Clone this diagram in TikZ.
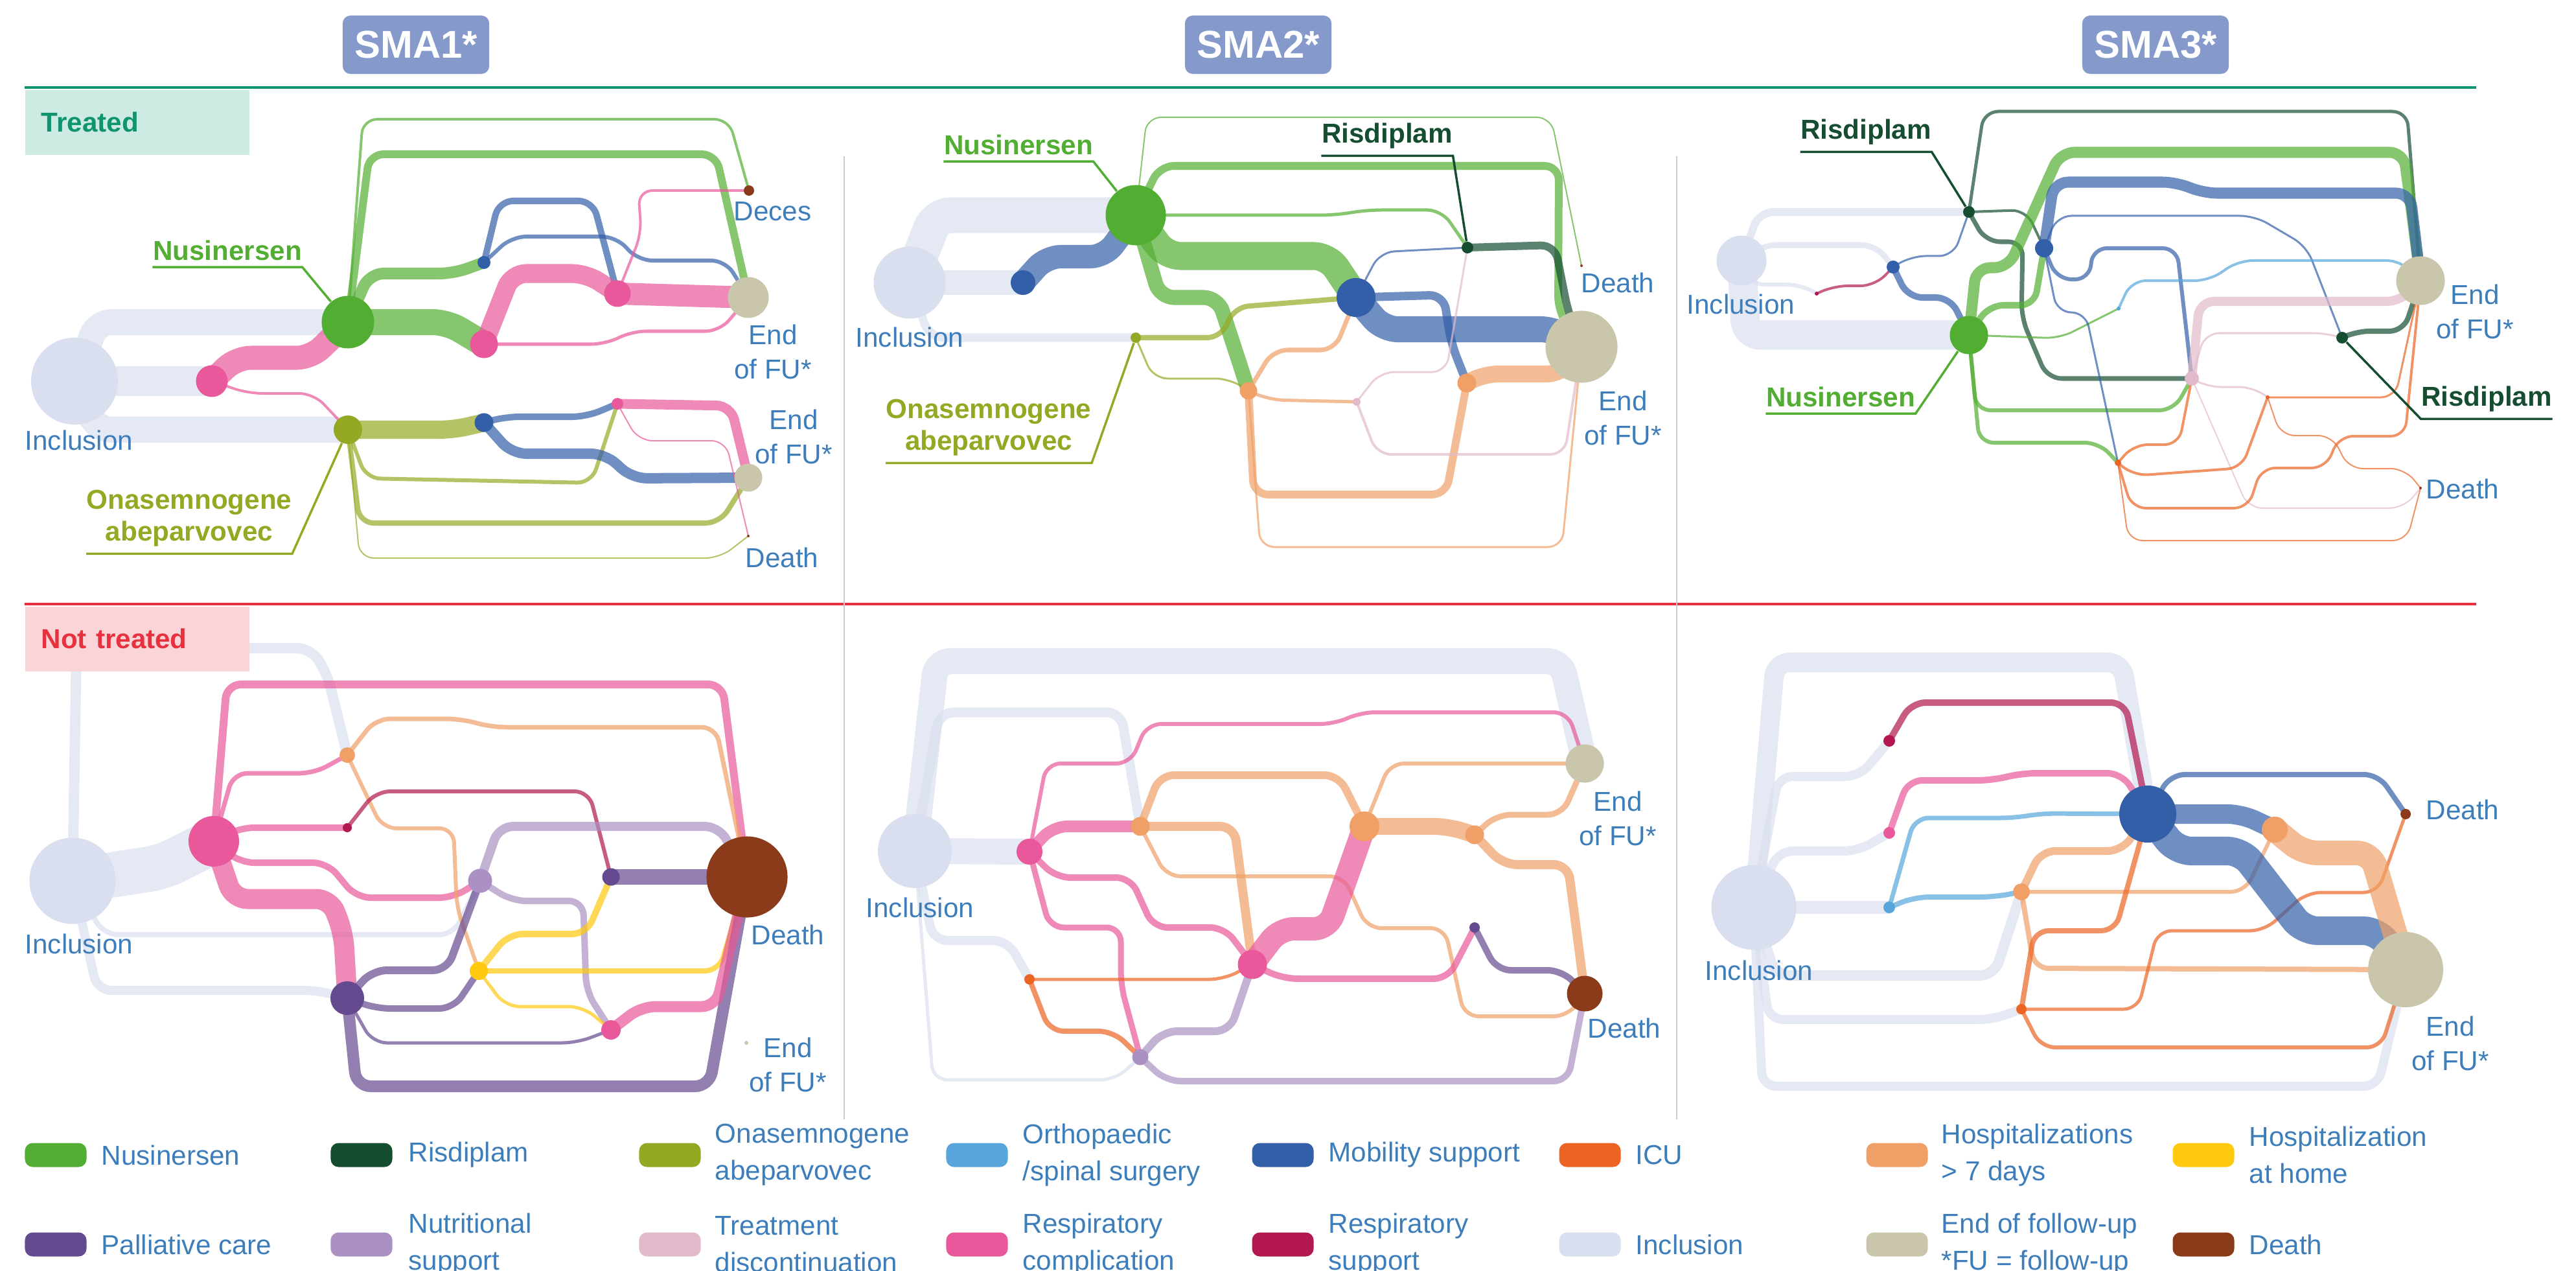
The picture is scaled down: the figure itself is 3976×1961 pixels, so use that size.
\documentclass[tikz,border=0pt]{standalone}
\usepackage{fontspec}
\setmainfont{Liberation Sans}
\usepackage{tikz}
\usetikzlibrary{backgrounds}
\definecolor{cNus}{HTML}{52AE32}
\definecolor{cRis}{HTML}{154D30}
\definecolor{cOna}{HTML}{95A823}
\definecolor{cOrt}{HTML}{57A5DB}
\definecolor{cMob}{HTML}{325FA8}
\definecolor{cIcu}{HTML}{EB6424}
\definecolor{cHos}{HTML}{F0A066}
\definecolor{cHom}{HTML}{FFC90E}
\definecolor{cPal}{HTML}{654A8F}
\definecolor{cNut}{HTML}{AB91C3}
\definecolor{cTrd}{HTML}{E1BBCB}
\definecolor{cRco}{HTML}{E8589A}
\definecolor{cRsu}{HTML}{B2174F}
\definecolor{cInc}{HTML}{DADFF0}
\definecolor{cEnd}{HTML}{C9C6AC}
\definecolor{cDth}{HTML}{8B3B1A}
\definecolor{cTxt}{HTML}{3D7DBA}
\definecolor{cHdr}{HTML}{8599CB}
\definecolor{cTrt}{HTML}{0F9470}
\definecolor{cTrtBg}{HTML}{CDEAE3}
\definecolor{cNot}{HTML}{E8313F}
\definecolor{cNotBg}{HTML}{F9D5D8}
\definecolor{cSep}{HTML}{CCCCCC}
\newcommand{\lbfont}{\fontsize{12}{15}\selectfont}

\begin{document}
\begin{tikzpicture}[x=0.01cm,y=-0.01cm,
  st/.style={circle,fill=#1,draw=none,inner sep=0pt},
  fl/.style={draw=#1,draw opacity=0.7,rounded corners=0.22cm},
  lb/.style={text=cTxt,font=\lbfont,align=center,inner sep=0pt},
  ld/.style={text=#1,font=\bfseries\fontsize{12}{14}\selectfont,align=center,inner xsep=0pt,inner ysep=0.1cm},
  lead/.style={draw=#1,line width=0.035cm},
  hdr/.style={fill=cHdr,text=white,font=\bfseries\fontsize{17}{17}\selectfont,rounded corners=0.12cm,minimum width=2.26cm,minimum height=0.9cm},
  sec/.style={fill=#1,anchor=north west,minimum height=1.0cm,text width=2.96cm,inner xsep=0.25cm,align=left,font=\bfseries\fontsize{12}{14}\selectfont},
  sw/.style={fill=#1,rounded corners=0.12cm,minimum width=0.95cm,minimum height=0.37cm,inner sep=0pt},
  lg/.style={text=cTxt,font=\fontsize{12}{16.2}\selectfont,anchor=west,align=left,inner sep=0pt}]
\useasboundingbox (0,0) rectangle (3976,1961);

% headers and frames
\node[hdr] (h1) at (642,69) {SMA1*};
\node[hdr] (h2) at (1942,69) {SMA2*};
\node[hdr] (h3) at (3327,69) {SMA3*};
\draw[cTrt,line width=0.046cm] (38,135) -- (3822,135);
\draw[cNot,line width=0.046cm] (38,932) -- (3822,932);
\draw[cSep,line width=0.02cm] (1303,241) -- (1303,1727);
\draw[cSep,line width=0.02cm] (2588,241) -- (2588,1727);
\node[sec=cTrtBg,text=cTrt] (trt) at (38,138) {Treated};
\node[sec=cNotBg,text=cNot] (ntrt) at (38,935) {Not treated};

% treated, SMA1
\node[st=cInc,minimum size=1.34cm] (p1inc) at (115,588) {};
\node[st=cRco,minimum size=0.49cm] (p1rc) at (327,588) {};
\node[st=cNus,minimum size=0.81cm] (p1nus) at (537,497) {};
\node[st=cOna,minimum size=0.44cm] (p1ona) at (537,663) {};
\node[st=cMob,minimum size=0.20cm] (p1mob) at (747,405) {};
\node[st=cRco,minimum size=0.43cm] (p1rcb) at (747,531) {};
\node[st=cRco,minimum size=0.41cm] (p1rcc) at (953,453) {};
\node[st=cEnd,minimum size=0.63cm] (p1end) at (1155,459) {};
\node[st=cDth,minimum size=0.16cm] (p1dec) at (1156,294) {};
\node[st=cMob,minimum size=0.29cm] (p1mobb) at (747,652) {};
\node[st=cRco,minimum size=0.18cm] (p1rcd) at (953,623) {};
\node[st=cEnd,minimum size=0.43cm] (p1endb) at (1155,737) {};
\node[st=cDth,minimum size=0.04cm] (p1dth) at (1155,827) {};
\node[lb] (t1inc) at (122,679) {Inclusion};
\node[lb,anchor=west] (t1dec) at (1132,326) {Deces};
\node[lb] (t1end) at (1193,543) {End\\of FU*};
\node[lb] (t1endb) at (1225,674) {End\\of FU*};
\node[lb] (t1dth) at (1207,860) {Death};
\node[ld=cNus] (l1nus) at (351,386) {Nusinersen};
\node[ld=cOna] (l1ona) at (292,800) {Onasemnogene\\abeparvovec};
\draw[lead=cNus] (l1nus.south west) -- (l1nus.south east) -- (p1nus);
\draw[lead=cOna] (l1ona.south west) -- (l1ona.south east) -- (p1ona);

% treated, SMA2
\node[st=cInc,minimum size=1.11cm] (p2inc) at (1404,436) {};
\node[st=cMob,minimum size=0.38cm] (p2mob) at (1579,436) {};
\node[st=cNus,minimum size=0.93cm] (p2nus) at (1753,332) {};
\node[st=cOna,minimum size=0.16cm] (p2ona) at (1753,521) {};
\node[st=cMob,minimum size=0.60cm] (p2mobb) at (2093,459) {};
\node[st=cRis,minimum size=0.18cm] (p2ris) at (2265,382) {};
\node[st=cHos,minimum size=0.27cm] (p2hos) at (1927,603) {};
\node[st=cTrd,minimum size=0.12cm] (p2trd) at (2094,620) {};
\node[st=cHos,minimum size=0.29cm] (p2hosb) at (2264,591) {};
\node[st=cEnd,minimum size=1.11cm] (p2end) at (2441,535) {};
\node[st=cDth,minimum size=0.04cm] (p2dth) at (2441,410) {};
\node[lb] (t2inc) at (1404,520) {Inclusion};
\node[lb] (t2dth) at (2497,436) {Death};
\node[lb] (t2end) at (2505,645) {End\\of FU*};
\node[ld=cNus] (l2nus) at (1572,223) {Nusinersen};
\node[ld=cRis] (l2ris) at (2141,210) {Risdiplam};
\node[ld=cOna] (l2ona) at (1526,660) {Onasemnogene\\abeparvovec};
\draw[lead=cNus] (l2nus.south west) -- (l2nus.south east) -- (p2nus);
\draw[lead=cRis] (l2ris.south west) -- (l2ris.south east) -- (p2ris);
\draw[lead=cOna] (l2ona.south west) -- (l2ona.south east) -- (p2ona);

% treated, SMA3
\node[st=cInc,minimum size=0.77cm] (p3inc) at (2688,402) {};
\node[st=cMob,minimum size=0.20cm] (p3mob) at (2922,412) {};
\node[st=cRsu,minimum size=0.06cm] (p3rsu) at (2804,453) {};
\node[st=cNus,minimum size=0.59cm] (p3nus) at (3039,517) {};
\node[st=cRis,minimum size=0.18cm] (p3ris) at (3039,327) {};
\node[st=cMob,minimum size=0.28cm] (p3mobb) at (3155,383) {};
\node[st=cOrt,minimum size=0.06cm] (p3ort) at (3270,476) {};
\node[st=cTrd,minimum size=0.22cm] (p3trd) at (3383,584) {};
\node[st=cIcu,minimum size=0.06cm] (p3icu) at (3500,613) {};
\node[st=cIcu,minimum size=0.10cm] (p3icub) at (3269,714) {};
\node[st=cRis,minimum size=0.18cm] (p3risb) at (3615,521) {};
\node[st=cEnd,minimum size=0.75cm] (p3end) at (3736,433) {};
\node[st=cDth,minimum size=0.04cm] (p3dth) at (3736,753) {};
\node[lb] (t3inc) at (2687,469) {Inclusion};
\node[lb] (t3end) at (3820,481) {End\\of FU*};
\node[lb] (t3dth) at (3801,754) {Death};
\node[ld=cRis] (l3ris) at (2880,204) {Risdiplam};
\node[ld=cNus] (l3nus) at (2841,612) {Nusinersen};
\node[ld=cRis] (l3risb) at (3838,616) {Risdiplam};
\draw[lead=cRis] (l3ris.south west) -- (l3ris.south east) -- (p3ris);
\draw[lead=cNus] (l3nus.south west) -- (l3nus.south east) -- (p3nus);
\draw[lead=cRis] (l3risb.south east) -- (l3risb.south west) -- (p3risb);

% not treated, SMA1
\node[st=cInc,minimum size=1.33cm] (p4inc) at (112,1359) {};
\node[st=cRco,minimum size=0.78cm] (p4rc) at (330,1298) {};
\node[st=cHos,minimum size=0.24cm] (p4hos) at (536,1165) {};
\node[st=cRsu,minimum size=0.14cm] (p4rsu) at (536,1277) {};
\node[st=cNut,minimum size=0.37cm] (p4nut) at (741,1359) {};
\node[st=cPal,minimum size=0.27cm] (p4pal) at (943,1353) {};
\node[st=cDth,minimum size=1.25cm] (p4dth) at (1153,1353) {};
\node[st=cHom,minimum size=0.28cm] (p4hom) at (739,1498) {};
\node[st=cPal,minimum size=0.52cm] (p4palb) at (536,1540) {};
\node[st=cRco,minimum size=0.30cm] (p4rcb) at (943,1589) {};
\node[st=cEnd,minimum size=0.06cm] (p4end) at (1152,1609) {};
\node[lb] (t4inc) at (122,1456) {Inclusion};
\node[lb] (t4dth) at (1216,1442) {Death};
\node[lb] (t4end) at (1216,1643) {End\\of FU*};

% not treated, SMA2
\node[st=cInc,minimum size=1.14cm] (p5inc) at (1412,1313) {};
\node[st=cRco,minimum size=0.40cm] (p5rc) at (1589,1314) {};
\node[st=cHos,minimum size=0.29cm] (p5hos) at (1760,1275) {};
\node[st=cHos,minimum size=0.46cm] (p5hosb) at (2106,1275) {};
\node[st=cHos,minimum size=0.29cm] (p5hosc) at (2276,1288) {};
\node[st=cEnd,minimum size=0.59cm] (p5end) at (2446,1178) {};
\node[st=cRco,minimum size=0.45cm] (p5rcb) at (1933,1488) {};
\node[st=cIcu,minimum size=0.16cm] (p5icu) at (1589,1511) {};
\node[st=cNut,minimum size=0.25cm] (p5nut) at (1760,1631) {};
\node[st=cPal,minimum size=0.16cm] (p5pal) at (2276,1431) {};
\node[st=cDth,minimum size=0.55cm] (p5dth) at (2446,1533) {};
\node[lb] (t5inc) at (1420,1400) {Inclusion};
\node[lb] (t5end) at (2497,1263) {End\\of FU*};
\node[lb] (t5dth) at (2507,1586) {Death};

% not treated, SMA3
\node[st=cInc,minimum size=1.31cm] (p6inc) at (2707,1400) {};
\node[st=cRsu,minimum size=0.18cm] (p6rsu) at (2916,1143) {};
\node[st=cRco,minimum size=0.18cm] (p6rc) at (2916,1285) {};
\node[st=cOrt,minimum size=0.18cm] (p6ort) at (2916,1400) {};
\node[st=cHos,minimum size=0.26cm] (p6hos) at (3120,1376) {};
\node[st=cIcu,minimum size=0.16cm] (p6icu) at (3120,1557) {};
\node[st=cMob,minimum size=0.88cm] (p6mob) at (3315,1256) {};
\node[st=cHos,minimum size=0.40cm] (p6hosb) at (3511,1280) {};
\node[st=cDth,minimum size=0.16cm] (p6dth) at (3713,1256) {};
\node[st=cEnd,minimum size=1.16cm] (p6end) at (3713,1496) {};
\node[lb] (t6inc) at (2715,1497) {Inclusion};
\node[lb] (t6dth) at (3801,1249) {Death};
\node[lb] (t6end) at (3782,1610) {End\\of FU*};

\begin{scope}[on background layer]
% treated, SMA1
\draw[fl=cInc,line width=0.40cm] (p1inc.center) -- (150,497) -- (p1nus.center);
\draw[fl=cInc,line width=0.45cm] (p1inc.center) -- (p1rc.center);
\draw[fl=cInc,line width=0.40cm] (p1inc.center) -- (150,663) -- (p1ona.center);
\draw[fl=cRco,line width=0.37cm] (p1rc.center) -- (365,552) -- (480,552) -- (p1nus.center);
\draw[fl=cRco,line width=0.04cm] (p1rc.center) -- (383,607) -- (484,607) -- (p1ona.center);
\draw[fl=cNus,line width=0.04cm] (p1nus.center) -- (560,184) -- (1125,184) -- (p1dec.center);
\draw[fl=cNus,line width=0.12cm] (p1nus.center) -- (570,238) -- (1105,238) -- (p1end.center);
\draw[fl=cNus,line width=0.18cm] (p1nus.center) -- (570,422) -- (700,422) -- (p1mob.center);
\draw[fl=cNus,line width=0.40cm] (p1nus.center) -- (690,497) -- (p1rcb.center);
\draw[fl=cMob,line width=0.10cm] (p1mob.center) -- (770,310) -- (915,310) -- (p1rcc.center);
\draw[fl=cMob,line width=0.06cm] (p1mob.center) -- (790,365) -- (951,365) -- (985,402) -- (1120,402) -- (p1end.center);
\draw[fl=cRco,line width=0.29cm] (p1rcb.center) -- (790,422) -- (905,422) -- (p1rcc.center);
\draw[fl=cRco,line width=0.05cm] (p1rcb.center) -- (935,531) -- (975,511) -- (1111,511) -- (p1end.center);
\draw[fl=cRco,line width=0.34cm] (p1rcc.center) -- (p1end.center);
\draw[fl=cRco,line width=0.04cm] (p1rcc.center) -- (990,360) -- (985,294) -- (p1dec.center);
\draw[fl=cOna,line width=0.28cm] (p1ona.center) -- (700,663) -- (p1mobb.center);
\draw[fl=cOna,line width=0.06cm] (p1ona.center) -- (565,738) -- (913,745) -- (p1rcd.center);
\draw[fl=cOna,line width=0.08cm] (p1ona.center) -- (555,807) -- (1111,807) -- (p1endb.center);
\draw[fl=cOna,line width=0.02cm] (p1ona.center) -- (555,861) -- (1111,861) -- (p1dth.center);
\draw[fl=cMob,line width=0.10cm] (p1mobb.center) -- (780,643) -- (905,643) -- (p1rcd.center);
\draw[fl=cMob,line width=0.16cm] (p1mobb.center) -- (790,700) -- (934,700) -- (976,738) -- (p1endb.center);
\draw[fl=cRco,line width=0.15cm] (p1rcd.center) -- (1128,626) -- (p1endb.center);
\draw[fl=cRco,line width=0.02cm] (p1rcd.center) -- (985,680) -- (1120,680) -- (p1dth.center);
% treated, SMA2
\draw[fl=cInc,line width=0.55cm] (p2inc.center) -- (1445,332) -- (p2nus.center);
\draw[fl=cInc,line width=0.37cm] (p2inc.center) -- (p2mob.center);
\draw[fl=cInc,line width=0.13cm] (p2inc.center) -- (1435,521) -- (p2ona.center);
\draw[fl=cMob,line width=0.36cm] (p2mob.center) -- (1615,396) -- (1705,396) -- (p2nus.center);
\draw[fl=cNus,line width=0.02cm] (p2nus.center) -- (1770,181) -- (2394,181) -- (p2dth.center);
\draw[fl=cNus,line width=0.12cm] (p2nus.center) -- (1790,256) -- (2406,256) -- (2405,480) -- (p2end.center);
\draw[fl=cNus,line width=0.05cm] (p2nus.center) -- (2060,332) -- (2110,324) -- (2225,324) -- (p2ris.center);
\draw[fl=cNus,line width=0.43cm] (p2nus.center) -- (1800,395) -- (2050,395) -- (p2mobb.center);
\draw[fl=cNus,line width=0.23cm] (p2nus.center) -- (1790,459) -- (1880,459) -- (p2hos.center);
\draw[fl=cOna,line width=0.08cm] (p2ona.center) -- (1885,521) -- (1905,474) -- (p2mobb.center);
\draw[fl=cOna,line width=0.03cm] (p2ona.center) -- (1780,584) -- (1898,584) -- (p2hos.center);
\draw[fl=cMob,line width=0.03cm] (p2mobb.center) -- (2130,389) -- (p2ris.center);
\draw[fl=cMob,line width=0.40cm] (p2mobb.center) -- (2135,508) -- (2400,508) -- (p2end.center);
\draw[fl=cMob,line width=0.13cm] (p2mobb.center) -- (2228,455) -- (2240,530) -- (p2hosb.center);
\draw[fl=cHos,line width=0.07cm] (p2hos.center) -- (1965,540) -- (2060,540) -- (p2mobb.center);
\draw[fl=cRis,line width=0.12cm] (p2ris.center) -- (2400,378) -- (2420,480) -- (p2end.center);
\draw[fl=cTrd,line width=0.03cm] (p2ris.center) -- (2232,574) -- (2130,574) -- (p2trd.center);
\draw[fl=cHos,line width=0.05cm] (p2hos.center) -- (1960,617) -- (p2trd.center);
\draw[fl=cHos,line width=0.12cm] (p2hos.center) -- (1935,763) -- (2232,763) -- (p2hosb.center);
\draw[fl=cHos,line width=0.03cm] (p2hos.center) -- (1945,844) -- (2411,844) -- (p2end.center);
\draw[fl=cTrd,line width=0.04cm] (p2trd.center) -- (2125,701) -- (2415,701) -- (p2end.center);
\draw[fl=cHos,line width=0.26cm] (p2hosb.center) -- (2290,577) -- (2410,577) -- (p2end.center);
% treated, SMA3
\draw[fl=cInc,line width=0.12cm] (p3inc.center) -- (2715,327) -- (p3ris.center);
\draw[fl=cInc,line width=0.09cm] (p3inc.center) -- (2720,378) -- (2895,378) -- (p3mob.center);
\draw[fl=cInc,line width=0.06cm] (p3inc.center) -- (2700,439) -- (2780,439) -- (p3rsu.center);
\draw[fl=cInc,line width=0.45cm] (p3inc.center) -- (2695,517) -- (p3nus.center);
\draw[fl=cRsu,line width=0.04cm] (p3rsu.center) -- (2830,441) -- (2894,441) -- (p3mob.center);
\draw[fl=cMob,line width=0.10cm] (p3mob.center) -- (2945,459) -- (3010,459) -- (p3nus.center);
\draw[fl=cMob,line width=0.03cm] (p3mob.center) -- (2950,395) -- (3015,395) -- (p3ris.center);
\draw[fl=cRis,line width=0.05cm] (p3ris.center) -- (3062,172) -- (3715,172) -- (p3end.center);
\draw[fl=cRis,line width=0.04cm] (p3ris.center) -- (3127,324) -- (p3mobb.center);
\draw[fl=cRis,line width=0.07cm] (p3ris.center) -- (3065,373) -- (3122,373) -- (3120,490) -- (3160,584) -- (p3trd.center);
\draw[fl=cNus,line width=0.17cm] (p3nus.center) -- (3050,413) -- (3100,413) -- (3180,235) -- (3710,235) -- (p3end.center);
\draw[fl=cNus,line width=0.10cm] (p3nus.center) -- (3070,471) -- (3140,471) -- (p3mobb.center);
\draw[fl=cNus,line width=0.03cm] (p3nus.center) -- (3179,522) -- (p3ort.center);
\draw[fl=cNus,line width=0.06cm] (p3nus.center) -- (3050,633) -- (3355,633) -- (p3trd.center);
\draw[fl=cNus,line width=0.06cm] (p3nus.center) -- (3055,683) -- (3240,683) -- (p3icub.center);
\draw[fl=cMob,line width=0.17cm] (p3mobb.center) -- (3170,281) -- (3360,281) -- (3400,298) -- (3720,298) -- (p3end.center);
\draw[fl=cMob,line width=0.03cm] (p3mobb.center) -- (3175,333) -- (3480,333) -- (3560,380) -- (p3risb.center);
\draw[fl=cMob,line width=0.06cm] (p3mobb.center) -- (3175,431) -- (3225,431) -- (3230,383) -- (3360,383) -- (p3trd.center);
\draw[fl=cMob,line width=0.03cm] (p3mobb.center) -- (3175,482) -- (3219,482) -- (p3icub.center);
\draw[fl=cOrt,line width=0.04cm] (p3ort.center) -- (3290,433) -- (3410,433) -- (3455,402) -- (3706,402) -- (p3end.center);
\draw[fl=cTrd,line width=0.14cm] (p3trd.center) -- (3395,465) -- (3706,465) -- (p3end.center);
\draw[fl=cTrd,line width=0.03cm] (p3trd.center) -- (3403,514) -- (3592,514) -- (p3risb.center);
\draw[fl=cTrd,line width=0.03cm] (p3trd.center) -- (3405,597) -- (3478,597) -- (p3icu.center);
\draw[fl=cTrd,line width=0.02cm] (p3trd.center) -- (3470,784) -- (3710,784) -- (p3dth.center);
\draw[fl=cRis,line width=0.08cm] (p3risb.center) -- (3635,511) -- (3710,511) -- (p3end.center);
\draw[fl=cIcu,line width=0.04cm] (p3icub.center) -- (3293,686) -- (3363,686) -- (p3trd.center);
\draw[fl=cIcu,line width=0.04cm] (p3icub.center) -- (3293,734) -- (3460,722) -- (p3icu.center);
\draw[fl=cIcu,line width=0.04cm] (p3icub.center) -- (3290,784) -- (3470,784) -- (3490,722) -- (3590,722) -- (3610,673) -- (3712,673) -- (p3end.center);
\draw[fl=cIcu,line width=0.02cm] (p3icub.center) -- (3285,834) -- (3715,834) -- (p3dth.center);
\draw[fl=cIcu,line width=0.03cm] (p3icu.center) -- (3697,613) -- (p3end.center);
\draw[fl=cIcu,line width=0.02cm] (p3icu.center) -- (3520,672) -- (3600,672) -- (3625,723) -- (3712,723) -- (p3dth.center);
% not treated, SMA1
\draw[fl=cInc,line width=0.16cm] (p4inc.center) -- (118,1000) -- (480,1000) -- (505,1040) -- (p4hos.center);
\draw[fl=cInc,line width=0.70cm] (p4inc.center) -- (250,1338) -- (p4rc.center);
\draw[fl=cInc,line width=0.08cm] (p4inc.center) -- (160,1442) -- (700,1442) -- (p4nut.center);
\draw[fl=cInc,line width=0.14cm] (p4inc.center) -- (150,1528) -- (490,1528) -- (p4palb.center);
\draw[fl=cRco,line width=0.12cm] (p4rc.center) -- (350,1056) -- (1115,1056) -- (p4dth.center);
\draw[fl=cRco,line width=0.07cm] (p4rc.center) -- (360,1193) -- (485,1193) -- (p4hos.center);
\draw[fl=cRco,line width=0.10cm] (p4rc.center) -- (370,1277) -- (p4rsu.center);
\draw[fl=cRco,line width=0.10cm] (p4rc.center) -- (370,1331) -- (505,1331) -- (550,1385) -- (700,1385) -- (p4nut.center);
\draw[fl=cRco,line width=0.31cm] (p4rc.center) -- (360,1387) -- (510,1387) -- (530,1440) -- (p4palb.center);
\draw[fl=cHos,line width=0.07cm] (p4hos.center) -- (580,1109) -- (710,1109) -- (760,1122) -- (1105,1122) -- (p4dth.center);
\draw[fl=cHos,line width=0.06cm] (p4hos.center) -- (590,1278) -- (700,1278) -- (705,1400) -- (p4hom.center);
\draw[fl=cRsu,line width=0.06cm] (p4rsu.center) -- (580,1221) -- (909,1221) -- (p4pal.center);
\draw[fl=cNut,line width=0.14cm] (p4nut.center) -- (770,1275) -- (1110,1275) -- (p4dth.center);
\draw[fl=cNut,line width=0.10cm] (p4nut.center) -- (790,1390) -- (900,1390) -- (905,1530) -- (p4rcb.center);
\draw[fl=cPal,line width=0.24cm] (p4pal.center) -- (p4dth.center);
\draw[fl=cHom,line width=0.10cm] (p4hom.center) -- (785,1441) -- (905,1441) -- (p4pal.center);
\draw[fl=cHom,line width=0.08cm] (p4hom.center) -- (1110,1498) -- (p4dth.center);
\draw[fl=cHom,line width=0.05cm] (p4hom.center) -- (780,1553) -- (900,1553) -- (p4rcb.center);
\draw[fl=cPal,line width=0.12cm] (p4palb.center) -- (575,1497) -- (690,1497) -- (p4nut.center);
\draw[fl=cPal,line width=0.10cm] (p4palb.center) -- (580,1556) -- (700,1556) -- (p4hom.center);
\draw[fl=cPal,line width=0.05cm] (p4palb.center) -- (575,1609) -- (890,1609) -- (p4rcb.center);
\draw[fl=cPal,line width=0.18cm] (p4palb.center) -- (550,1676) -- (1095,1676) -- (p4dth.center);
\draw[fl=cRco,line width=0.17cm] (p4rcb.center) -- (990,1553) -- (1105,1553) -- (p4dth.center);
% not treated, SMA2
\draw[fl=cInc,line width=0.40cm] (p5inc.center) -- (1445,1020) -- (2410,1020) -- (p5end.center);
\draw[fl=cInc,line width=0.15cm] (p5inc.center) -- (1450,1099) -- (1730,1099) -- (p5hos.center);
\draw[fl=cInc,line width=0.40cm] (p5inc.center) -- (p5rc.center);
\draw[fl=cInc,line width=0.14cm] (p5inc.center) -- (1440,1451) -- (1555,1451) -- (p5icu.center);
\draw[fl=cInc,line width=0.05cm] (p5inc.center) -- (1440,1666) -- (1721,1666) -- (p5nut.center);
\draw[fl=cRco,line width=0.06cm] (p5rc.center) -- (1615,1178) -- (1745,1178) -- (1770,1117) -- (2060,1117) -- (2100,1099) -- (2420,1099) -- (p5end.center);
\draw[fl=cRco,line width=0.18cm] (p5rc.center) -- (1625,1275) -- (p5hos.center);
\draw[fl=cRco,line width=0.10cm] (p5rc.center) -- (1630,1354) -- (1745,1354) -- (1780,1431) -- (1890,1431) -- (p5rcb.center);
\draw[fl=cRco,line width=0.09cm] (p5rc.center) -- (1620,1431) -- (1730,1431) -- (1730,1520) -- (p5nut.center);
\draw[fl=cHos,line width=0.12cm] (p5hos.center) -- (1790,1196) -- (2066,1196) -- (p5hosb.center);
\draw[fl=cHos,line width=0.14cm] (p5hos.center) -- (1905,1275) -- (p5rcb.center);
\draw[fl=cHos,line width=0.06cm] (p5hos.center) -- (1800,1352) -- (2074,1352) -- (2110,1432) -- (2230,1432) -- (2260,1568) -- (2420,1568) -- (p5dth.center);
\draw[fl=cRco,line width=0.36cm] (p5rcb.center) -- (1975,1433) -- (2050,1433) -- (p5hosb.center);
\draw[fl=cRco,line width=0.10cm] (p5rcb.center) -- (1980,1510) -- (2235,1510) -- (p5pal.center);
\draw[fl=cIcu,line width=0.05cm] (p5icu.center) -- (1889,1511) -- (p5rcb.center);
\draw[fl=cIcu,line width=0.08cm] (p5icu.center) -- (1620,1591) -- (1718,1591) -- (p5nut.center);
\draw[fl=cNut,line width=0.12cm] (p5nut.center) -- (1795,1591) -- (1898,1591) -- (p5rcb.center);
\draw[fl=cNut,line width=0.10cm] (p5nut.center) -- (1800,1668) -- (2420,1668) -- (p5dth.center);
\draw[fl=cHos,line width=0.06cm] (p5hosb.center) -- (2145,1178) -- (p5end.center);
\draw[fl=cHos,line width=0.26cm] (p5hosb.center) -- (2235,1275) -- (p5hosc.center);
\draw[fl=cHos,line width=0.09cm] (p5hosc.center) -- (2310,1257) -- (2411,1257) -- (p5end.center);
\draw[fl=cHos,line width=0.14cm] (p5hosc.center) -- (2320,1334) -- (2420,1334) -- (p5dth.center);
\draw[fl=cPal,line width=0.10cm] (p5pal.center) -- (2310,1497) -- (2411,1497) -- (p5dth.center);
% not treated, SMA3
\draw[fl=cInc,line width=0.30cm] (p6inc.center) -- (2740,1022) -- (3275,1022) -- (p6mob.center);
\draw[fl=cInc,line width=0.14cm] (p6inc.center) -- (2745,1198) -- (2870,1198) -- (p6rsu.center);
\draw[fl=cInc,line width=0.14cm] (p6inc.center) -- (2745,1313) -- (2868,1313) -- (p6rc.center);
\draw[fl=cInc,line width=0.20cm] (p6inc.center) -- (p6ort.center);
\draw[fl=cInc,line width=0.16cm] (p6inc.center) -- (2740,1505) -- (3078,1505) -- (p6hos.center);
\draw[fl=cInc,line width=0.14cm] (p6inc.center) -- (2730,1573) -- (3075,1573) -- (p6icu.center);
\draw[fl=cInc,line width=0.14cm] (p6inc.center) -- (2720,1676) -- (3670,1676) -- (p6end.center);
\draw[fl=cRsu,line width=0.10cm] (p6rsu.center) -- (2950,1084) -- (3280,1084) -- (p6mob.center);
\draw[fl=cRco,line width=0.10cm] (p6rc.center) -- (2945,1204) -- (3075,1204) -- (3120,1193) -- (3275,1193) -- (p6mob.center);
\draw[fl=cOrt,line width=0.07cm] (p6ort.center) -- (2955,1262) -- (3110,1262) -- (3150,1255) -- (p6mob.center);
\draw[fl=cOrt,line width=0.08cm] (p6ort.center) -- (2955,1384) -- (3078,1384) -- (p6hos.center);
\draw[fl=cHos,line width=0.12cm] (p6hos.center) -- (3150,1313) -- (3275,1313) -- (p6mob.center);
\draw[fl=cHos,line width=0.06cm] (p6hos.center) -- (3465,1376) -- (p6hosb.center);
\draw[fl=cHos,line width=0.08cm] (p6hos.center) -- (3140,1494) -- (p6end.center);
\draw[fl=cIcu,line width=0.08cm] (p6icu.center) -- (3140,1436) -- (3265,1436) -- (p6mob.center);
\draw[fl=cIcu,line width=0.05cm] (p6icu.center) -- (3300,1557) -- (3330,1436) -- (3495,1436) -- (3560,1377) -- (3670,1377) -- (p6dth.center);
\draw[fl=cIcu,line width=0.06cm] (p6icu.center) -- (3150,1616) -- (3675,1616) -- (p6end.center);
\draw[fl=cMob,line width=0.08cm] (p6mob.center) -- (3350,1195) -- (3671,1195) -- (p6dth.center);
\draw[fl=cMob,line width=0.30cm] (p6mob.center) -- (3460,1256) -- (p6hosb.center);
\draw[fl=cMob,line width=0.44cm] (p6mob.center) -- (3360,1313) -- (3460,1313) -- (3555,1436) -- (3670,1436) -- (p6end.center);
\draw[fl=cHos,line width=0.38cm] (p6hosb.center) -- (3555,1316) -- (3660,1316) -- (p6end.center);
\end{scope}

% legend
\node[sw=cNus] (s1) at (86,1782) {};
\node[lg] (g1) at (156,1782) {Nusinersen};
\node[sw=cRis] (s2) at (558,1782) {};
\node[lg] (g2) at (630,1782) {Risdiplam};
\node[sw=cOna] (s3) at (1034,1782) {};
\node[lg] (g3) at (1103,1782) {Onasemnogene\\abeparvovec};
\node[sw=cOrt] (s4) at (1508,1782) {};
\node[lg] (g4) at (1578,1782) {Orthopaedic\\/spinal surgery};
\node[sw=cMob] (s5) at (1980,1782) {};
\node[lg] (g5) at (2050,1782) {Mobility support};
\node[sw=cIcu] (s6) at (2454,1782) {};
\node[lg] (g6) at (2524,1782) {ICU};
\node[sw=cHos] (s7) at (2928,1782) {};
\node[lg] (g7) at (2996,1782) {Hospitalizations\\> 7 days};
\node[sw=cHom] (s8) at (3401,1782) {};
\node[lg] (g8) at (3471,1782) {Hospitalization\\at home};
\node[sw=cPal] (s9) at (86,1920) {};
\node[lg] (g9) at (156,1920) {Palliative care};
\node[sw=cNut] (s10) at (558,1920) {};
\node[lg] (g10) at (630,1920) {Nutritional\\support};
\node[sw=cTrd] (s11) at (1034,1920) {};
\node[lg] (g11) at (1103,1920) {Treatment\\discontinuation};
\node[sw=cRco] (s12) at (1508,1920) {};
\node[lg] (g12) at (1578,1920) {Respiratory\\complication};
\node[sw=cRsu] (s13) at (1980,1920) {};
\node[lg] (g13) at (2050,1920) {Respiratory\\support};
\node[sw=cInc] (s14) at (2454,1920) {};
\node[lg] (g14) at (2524,1920) {Inclusion};
\node[sw=cEnd] (s15) at (2928,1920) {};
\node[lg] (g15) at (2996,1920) {End of follow-up\\*FU = follow-up};
\node[sw=cDth] (s16) at (3401,1920) {};
\node[lg] (g16) at (3471,1920) {Death};
\end{tikzpicture}
\end{document}
